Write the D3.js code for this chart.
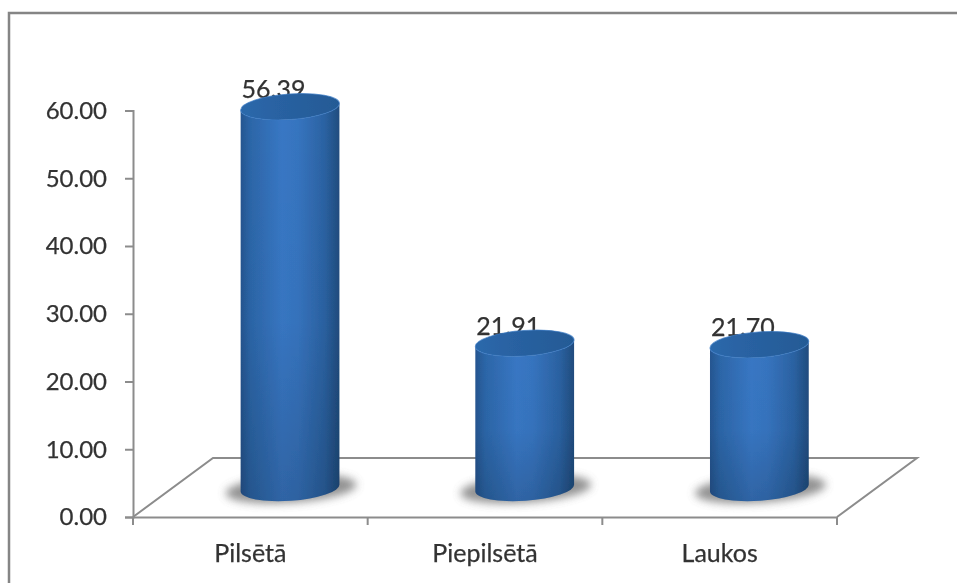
<!DOCTYPE html>
<html><head><meta charset="utf-8">
<script src="https://cdn.jsdelivr.net/npm/d3@7"></script>
<style>html,body{margin:0;background:#fff}svg{display:block}text{font-family:Lato,"Open Sans",sans-serif;fill:#333;stroke:#333;stroke-width:.25px}</style>
</head><body><div id="c"></div>
<script>
const categories = ["Pilsētā","Piepilsētā","Laukos"];
const values = [56.39,21.91,21.70];
const yTicks = [0,10,20,30,40,50,60];

const W=957,H=583;
const svg=d3.select("#c").append("svg").attr("width",W).attr("height",H);
const defs=svg.append("defs");
const soft=defs.append("filter").attr("id","soft").attr("x","-5%").attr("y","-5%").attr("width","110%").attr("height","110%");
soft.append("feGaussianBlur").attr("stdDeviation",0.55);
const sh=defs.append("filter").attr("id","sh").attr("x","-30%").attr("y","-60%").attr("width","160%").attr("height","220%");
sh.append("feGaussianBlur").attr("stdDeviation",4);
const g=defs.append("linearGradient").attr("id","body").attr("x1",0).attr("x2",1).attr("y1",0).attr("y2",0);
[[0,"#255590"],[0.1,"#2c66a8"],[0.42,"#3877c4"],[0.58,"#3674bf"],[0.85,"#2b62a2"],[1,"#204c7e"]].forEach(s=>g.append("stop").attr("offset",s[0]).attr("stop-color",s[1]));
const v=defs.append("linearGradient").attr("id","shade").attr("x1",0).attr("x2",0).attr("y1",0).attr("y2",1);
[[0,"#000",0],[0.55,"#000",0.02],[1,"#000",0.16]].forEach(s=>v.append("stop").attr("offset",s[0]).attr("stop-color",s[1]).attr("stop-opacity",s[2]));
const t=defs.append("linearGradient").attr("id","top").attr("x1",0).attr("x2",1).attr("y1",0).attr("y2",0);
[[0,"#2b68ab"],[0.5,"#28609f"],[1,"#245a95"]].forEach(s=>t.append("stop").attr("offset",s[0]).attr("stop-color",s[1]));

const root=svg.append("g").attr("filter","url(#soft)");
// chart frame
const frame="#858585";
root.append("path").attr("d",`M9,${H} V13 H${W}`).attr("fill","none").attr("stroke",frame).attr("stroke-width",2.5);

const y=d3.scaleLinear().domain([0,60]).range([517,110.5]);
const x=d3.scaleBand().domain(categories).range([133,837]);
// height scale of the cylinders, seen in perspective on the floor
const topY=d3.scaleLinear().domain([0,60]).range([493.5,82]);
const baseY=488, ry=12.8, tilt=-4, rx=49.5, depthShift=39.7;
const axisCol="#8c8c8c";

// floor
root.append("path").attr("d",`M${x.range()[0]},${y(0)} L213,458 H917 L${x.range()[1]},${y(0)}`)
  .attr("fill","none").attr("stroke",axisCol).attr("stroke-width",2);

// axes
const ya=root.append("g").attr("transform","translate(133,0)")
  .call(d3.axisLeft(y).tickValues(yTicks).tickSize(8).tickPadding(18).tickFormat(d3.format(".2f")));
const xa=root.append("g").attr("transform",`translate(0,${y(0)})`)
  .call(d3.axisBottom(x).tickValues(categories).tickSize(0).tickPadding(23));
[ya,xa].forEach(a=>{a.selectAll("path,line").attr("stroke",axisCol).attr("stroke-width",2);});
ya.selectAll("text").style("font-size","24px").attr("dy","0.33em");
xa.selectAll("text").style("font-size","25px").attr("dy","0.88em");
root.append("g").selectAll("line").data([...x.domain().map(d=>x(d)),x.range()[1]]).join("line")
  .attr("x1",d=>d).attr("x2",d=>d).attr("y1",y(0)).attr("y2",y(0)+8).attr("stroke",axisCol).attr("stroke-width",2);

const cx=i=>x(categories[i])+x.bandwidth()/2+depthShift;

// value labels sit behind the cylinders
root.append("g").selectAll("text").data(values).join("text")
  .attr("x",(d,i)=>cx(i)-16.5).attr("y",d=>topY(d)-8.5)
  .attr("text-anchor","middle").style("font-size","25px").text(d=>d.toFixed(2));

// cylinders
const bars=root.append("g").selectAll("g").data(values).join("g");
bars.append("ellipse").attr("cx",(d,i)=>cx(i)+1).attr("cy",baseY+1).attr("rx",rx+16).attr("ry",ry+1)
  .attr("transform",(d,i)=>`rotate(${tilt} ${cx(i)} ${baseY})`).attr("fill","#777").attr("opacity",0.8).attr("filter","url(#sh)");
const bodyPath=(d,i)=>{
  const a=tilt*Math.PI/180,c=cx(i),dx=rx*Math.cos(a),dy=rx*Math.sin(a),ty=topY(d);
  return `M${c-dx},${ty-dy} L${c-dx},${baseY-dy} A${rx},${ry} ${tilt} 0 0 ${c+dx},${baseY+dy} L${c+dx},${ty+dy} A${rx},${ry} ${tilt} 0 1 ${c-dx},${ty-dy} Z`;
};
bars.append("path").attr("d",bodyPath).attr("fill","url(#body)");
bars.append("path").attr("d",bodyPath).attr("fill","url(#shade)");
bars.append("ellipse").attr("cx",(d,i)=>cx(i)).attr("cy",d=>topY(d)).attr("rx",rx).attr("ry",ry)
  .attr("transform",(d,i)=>`rotate(${tilt} ${cx(i)} ${topY(d)})`)
  .attr("fill","url(#top)").attr("stroke","#3a7ac4").attr("stroke-width",1).attr("stroke-opacity",0.7);
</script></body></html>
